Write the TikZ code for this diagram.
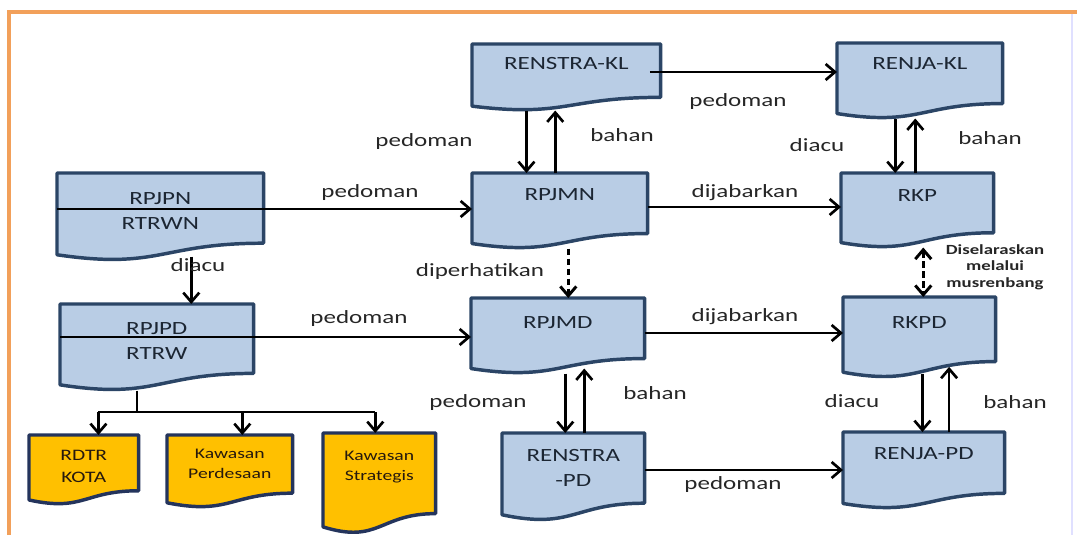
\documentclass[tikz,border=0pt]{standalone}
\usepackage{fontspec}
\setmainfont{Carlito}[FakeStretch=1.34]
\usetikzlibrary{arrows.meta,calc,backgrounds}

\definecolor{docblue}{HTML}{B9CDE5}
\definecolor{docedge}{HTML}{2B4566}
\definecolor{docgold}{HTML}{FFC000}
\definecolor{goldedge}{HTML}{24345C}
\definecolor{framecol}{HTML}{F2A05A}
\definecolor{doctext}{HTML}{1C2633}

\tikzset{
  doc/.style n args={3}{anchor=north west, inner sep=0pt, align=center,
    minimum width=#1*0.75pt, text height=#3*0.75pt, text depth=(#2-#3)*0.75pt},
  docline/.style={draw=docedge, line width=2.6pt, line join=round},
  arr/.style={line width=2pt, -{Straight Barb[length=7pt,width=12pt]}},
  dasharr/.style={line width=2.2pt, dash pattern=on 5pt off 2.5pt,
    -{Straight Barb[length=7pt,width=12pt]}},
  lbl/.style={font=\fontsize{14}{17}\selectfont, text=black!85},
}

\begin{document}
\begin{tikzpicture}[x=0.75pt,y=-0.75pt]
\useasboundingbox (0,0) rectangle (1077,535);
\draw[framecol, line width=3pt] (9,535) -- (9,12) -- (1077,12);
\draw[blue!12, line width=1pt] (1072,14) -- (1072,535);

\begin{scope}[every node/.style={font=\fontsize{14}{18.5}\selectfont, text=doctext}]
    \node[doc={188}{66}{25}] (renstrakl) at (472,44) {RENSTRA-KL};
    \node[doc={165}{75}{26}] (renjakl) at (837,43) {RENJA-KL};
    \node[doc={206}{87}{56}] (rpjpn) at (57,173) {RPJPN\\RTRWN};
    \node[doc={175}{75}{27}] (rpjmn) at (472,173) {RPJMN};
    \node[doc={152}{74}{28}] (rkp) at (841,173) {RKP};
    \node[doc={193}{86}{55}] (rpjpd) at (60,304) {RPJPD\\RTRW};
    \node[doc={173}{75}{30}] (rpjmd) at (471,298) {RPJMD};
    \node[doc={152}{80}{31}] (rkpd) at (843,297) {RKPD};
    \node[doc={142}{87}{53}] (renstrapd) at (502,433) {RENSTRA\\-PD};
    \node[doc={161}{76}{27}] (renjapd) at (843,432) {RENJA-PD};
\end{scope}
\begin{scope}[every node/.style={font=\fontsize{11}{15}\selectfont, text=black!80!brown}]
    \node[doc={109}{69}{47}, font=\fontsize{12}{16.5}\selectfont] (rdtr) at (29,435) {RDTR\\KOTA};
    \node[doc={125}{72}{43}] (kawasanp) at (167,435) {Kawasan\\Perdesaan};
    \node[doc={112}{100}{47}] (kawasans) at (323,433) {Kawasan\\Strategis};
\end{scope}

% document outlines behind the text
\begin{scope}[on background layer]
\foreach \n in {renstrakl,renjakl,rpjpn,rpjmn,rkp,rpjpd,rpjmd,rkpd,renstrapd,renjapd}
    \draw[docline, fill=docblue] (\n.north west) -- (\n.north east)
      -- ($(\n.north east)!0.802!(\n.south east)$)
      .. controls ($(\n.north)!0.802!(\n.south)$) and ($(\n.north)!1.1075!(\n.south)$)
      .. ($(\n.north west)!0.934!(\n.south west)$) -- cycle;
\foreach \n in {rdtr,kawasanp,kawasans}
    \draw[docline, draw=goldedge, fill=docgold] (\n.north west) -- (\n.north east)
      -- ($(\n.north east)!0.802!(\n.south east)$)
      .. controls ($(\n.north)!0.802!(\n.south)$) and ($(\n.north)!1.1075!(\n.south)$)
      .. ($(\n.north west)!0.934!(\n.south west)$) -- cycle;
\end{scope}

% horizontal connectors
\draw[arr] ([xshift=-8pt,yshift=-21pt]renstrakl.north east) -- ([yshift=-21pt]renstrakl.north east -| renjakl.west);
\draw[arr] ([yshift=-27pt]rpjpn.north west) -- ([yshift=-27pt]rpjpn.north west -| rpjmn.west);
\draw[arr] ([yshift=-25.5pt]rpjmn.north east) -- ([yshift=-25.5pt]rpjmn.north east -| rkp.west);
\draw[arr] ([yshift=-24.75pt]rpjpd.north west) -- ([yshift=-24.75pt]rpjpd.north west -| rpjmd.west);
\draw[arr] ([yshift=-26.25pt]rpjmd.north east) -- ([yshift=-26.25pt]rpjmd.north east -| rkpd.west);
\draw[arr] ([yshift=-27.75pt]renstrapd.north east) -- ([yshift=-27.75pt]renstrapd.north east -| renjapd.west);

% vertical connectors
\draw[arr] ([xshift=-25pt]rpjmn.north |- renstrakl.south) -- ([xshift=-25pt]rpjmn.north);
\draw[arr] ([xshift=-3.4pt]rpjmn.north) -- ([xshift=-3.4pt]rpjmn.north |- renstrakl.south);
\draw[arr] ([xshift=-16.5pt]rkp.north |- renjakl.south) -- ([xshift=-16.5pt]rkp.north);
\draw[arr] ([xshift=-1.5pt]rkp.north) -- ([xshift=-1.5pt]rkp.north |- renjakl.south);
\draw[arr] ([xshift=-6pt]renstrapd.north |- rpjmd.south) -- ([xshift=-6pt]renstrapd.north);
\draw[arr] ([xshift=8.25pt]renstrapd.north) -- ([xshift=8.25pt,yshift=3.75pt]renstrapd.north |- rpjmd.south);
\draw[arr] ([xshift=-1pt,yshift=3pt]renjapd.north |- rkpd.south) -- ([xshift=-1pt]renjapd.north);
\draw[arr] ([xshift=19pt]renjapd.north) -- ([xshift=19pt,yshift=8pt]renjapd.north |- rkpd.south);
\draw[arr] ([xshift=23.25pt,yshift=3pt]rpjpn.south) -- ([xshift=23.25pt]rpjpn.south |- rpjpd.north);
\draw[dasharr] ([xshift=6.4pt]rpjmn.south) -- ([xshift=6.4pt]rpjmn.south |- rpjmd.north);
\draw[dasharr, {Straight Barb[length=7pt,width=12pt]}-{Straight Barb[length=7pt,width=12pt]}]
    ([xshift=4.5pt]rkp.south) -- ([xshift=4.5pt]rkp.south |- rkpd.north);

% branch to the spatial plans
\coordinate (bus) at (137,412);
\draw[line width=2pt] (bus |- rpjpd.south) -- (bus);
\draw[line width=2pt] ([xshift=11pt]rdtr.north |- bus) -- ([xshift=-3pt]kawasans.north |- bus);
\draw[arr] ([xshift=11pt]rdtr.north |- bus) -- ([xshift=11pt]rdtr.north);
\draw[arr] ([xshift=9.4pt]kawasanp.north |- bus) -- ([xshift=9.4pt]kawasanp.north);
\draw[arr] ([xshift=-3pt]kawasans.north |- bus) -- ([xshift=-3pt]kawasans.north);

% connector labels
\node[lbl] (ped1) at (424,142) {pedoman};
\node[lbl] (bah1) at (622,135) {bahan};
\node[lbl] (ped2) at (738,102) {pedoman};
\node[lbl] (dia1) at (817,145) {diacu};
\node[lbl] (bah2) at (990,138) {bahan};
\node[lbl] (ped3) at (370,193) {pedoman};
\node[lbl] (jab1) at (745,193) {dijabarkan};
\node[lbl] (dia2) at (198,265) {diacu};
\node[lbl] (perh) at (480,272) {diperhatikan};
\node[lbl] (ped4) at (359,319) {pedoman};
\node[lbl] (jab2) at (745,317) {dijabarkan};
\node[lbl] (ped5) at (478,403) {pedoman};
\node[lbl] (bah3) at (655,393) {bahan};
\node[lbl] (dia3) at (852,401) {diacu};
\node[lbl] (bah4) at (1015,402) {bahan};
\node[lbl] (ped6) at (733,485) {pedoman};
\node[font=\bfseries\fontsize{10.5}{12.5}\selectfont, align=center, text=black!85] (selaras) at (995,267) {Diselaraskan\\melalui\\musrenbang};
\end{tikzpicture}
\end{document}
